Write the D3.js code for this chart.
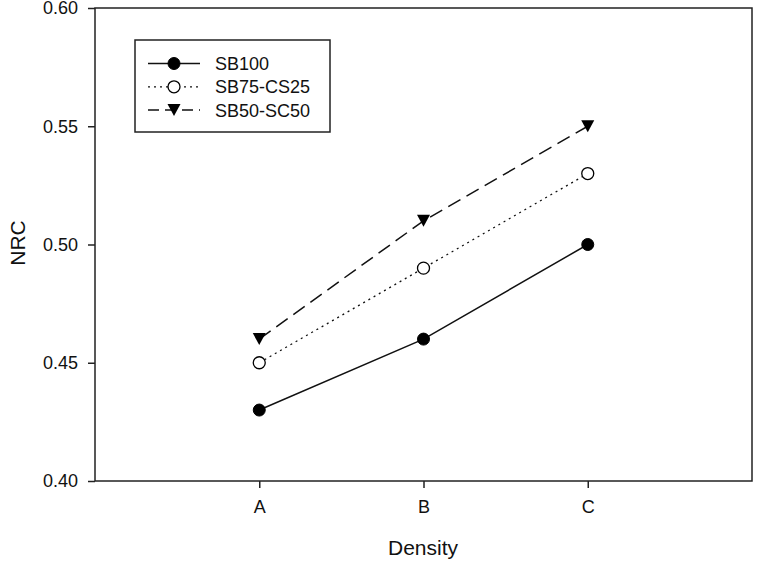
<!DOCTYPE html>
<html>
<head>
<meta charset="utf-8">
<script src="https://cdn.jsdelivr.net/npm/d3@7"></script>
<style>
  body { margin: 0; background: #fff; }
  text { font-family: "Liberation Sans", Arial, sans-serif; fill: #111; }
</style>
</head>
<body>
<svg id="chart" width="757" height="562"></svg>
<script>
var categories = ["A", "B", "C"];
var seriesNames = ["SB100", "SB75-CS25", "SB50-SC50"];
var sb100 = [0.43, 0.46, 0.50];
var sb75cs25 = [0.45, 0.49, 0.53];
var sb50sc50 = [0.46, 0.51, 0.55];
var yTicks = [0.40, 0.45, 0.50, 0.55, 0.60];

var svg = d3.select("#chart"),
    plotLeft = 95, plotRight = 752, plotTop = 8, plotBottom = 481;

var x = d3.scaleLinear().domain([0, categories.length + 1]).range([plotLeft, plotRight]);
var y = d3.scaleLinear().domain([0.40, 0.60]).range([plotBottom, plotTop]);

var series = [
  {name: seriesNames[0], values: sb100, dash: null, marker: "filled"},
  {name: seriesNames[1], values: sb75cs25, dash: "2,4", marker: "open"},
  {name: seriesNames[2], values: sb50sc50, dash: "14,7", marker: "tri"}
];

// frame
svg.append("rect")
    .attr("x", plotLeft).attr("y", plotTop)
    .attr("width", plotRight - plotLeft).attr("height", plotBottom - plotTop)
    .attr("fill", "none").attr("stroke", "#222").attr("stroke-width", 1.5);

// y axis
var yAxis = svg.append("g")
    .attr("transform", "translate(" + plotLeft + ",0)")
    .call(d3.axisLeft(y).tickValues(yTicks).tickFormat(d3.format(".2f")).tickSize(7).tickPadding(10));
yAxis.select(".domain").remove();
yAxis.selectAll("line").attr("stroke", "#222").attr("stroke-width", 1.5);
yAxis.selectAll("text").style("font-size", "18px").style("font-family", "Liberation Sans, Arial, sans-serif").attr("fill", "#111");

// x axis
var xAxis = svg.append("g")
    .attr("transform", "translate(0," + plotBottom + ")")
    .call(d3.axisBottom(x).tickValues([1, 2, 3]).tickFormat(function(d) { return categories[d - 1]; }).tickSize(7).tickPadding(12));
xAxis.select(".domain").remove();
xAxis.selectAll("line").attr("stroke", "#222").attr("stroke-width", 1.5);
xAxis.selectAll("text").style("font-size", "18px").style("font-family", "Liberation Sans, Arial, sans-serif").attr("fill", "#111");

// axis titles
svg.append("text")
    .attr("x", 423).attr("y", 555)
    .attr("text-anchor", "middle")
    .style("font-size", "21px")
    .text("Density");

svg.append("text")
    .attr("transform", "translate(25,243) rotate(-90)")
    .attr("text-anchor", "middle")
    .style("font-size", "21px")
    .text("NRC");

var line = d3.line()
    .x(function(d, i) { return x(i + 1); })
    .y(function(d) { return y(d); });

function drawMarker(g, type, cx, cy) {
  if (type === "filled") {
    g.append("circle").attr("cx", cx).attr("cy", cy).attr("r", 6)
        .attr("fill", "#000").attr("stroke", "#000");
  } else if (type === "open") {
    g.append("circle").attr("cx", cx).attr("cy", cy).attr("r", 6)
        .attr("fill", "#fff").attr("stroke", "#000").attr("stroke-width", 1.3);
  } else {
    g.append("path")
        .attr("d", "M" + (cx - 6.5) + "," + (cy - 6) + "L" + (cx + 6.5) + "," + (cy - 6) + "L" + cx + "," + (cy + 6) + "Z")
        .attr("fill", "#000");
  }
}

series.forEach(function(s) {
  var g = svg.append("g");
  g.append("path")
      .datum(s.values)
      .attr("d", line)
      .attr("fill", "none")
      .attr("stroke", "#111")
      .attr("stroke-width", s.dash === "2,4" ? 1.3 : 1.5)
      .attr("stroke-dasharray", s.dash);
  s.values.forEach(function(v, i) {
    drawMarker(g, s.marker, x(i + 1), y(v));
  });
});

// legend
var legend = svg.append("g");
legend.append("rect")
    .attr("x", 135).attr("y", 40).attr("width", 195).attr("height", 92)
    .attr("fill", "#fff").attr("stroke", "#222").attr("stroke-width", 1.5);

series.forEach(function(s, i) {
  var ly = 63.5 + i * 23.3;
  legend.append("line")
      .attr("x1", 148).attr("x2", 200).attr("y1", ly).attr("y2", ly)
      .attr("stroke", "#111")
      .attr("stroke-width", s.dash === "2,4" ? 1.2 : 1.5)
      .attr("stroke-dasharray", s.dash === "14,7" ? "11,6" : s.dash);
  drawMarker(legend, s.marker, 174, ly);
  legend.append("text")
      .attr("x", 215).attr("y", ly + 6.5)
      .style("font-size", "18px")
      .text(s.name);
});
</script>
</body>
</html>
